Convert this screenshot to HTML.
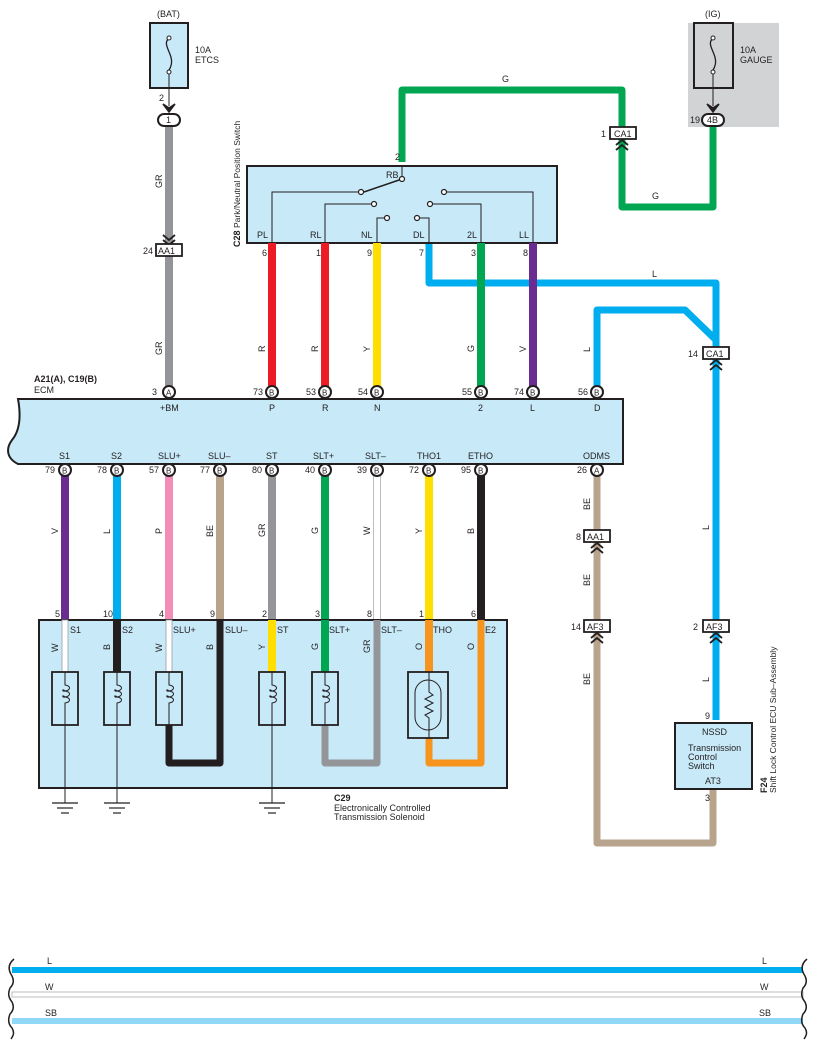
<!DOCTYPE html>
<html><head><meta charset="utf-8"><style>
html,body{margin:0;padding:0;background:#fff}
svg{display:block}
text{font-family:"Liberation Sans",sans-serif;font-size:9px;fill:#231f20}
.b{font-weight:bold}
</style></head><body>
<svg width="818" height="1045" viewBox="0 0 818 1045" xmlns="http://www.w3.org/2000/svg">
<defs>
<g id="pin"><circle r="6" fill="#fff" stroke="#231f20" stroke-width="2"/></g>
<g id="chev" fill="none" stroke="#231f20" stroke-width="1.8"><polyline points="-6,4 0,-1 6,4"/><polyline points="-6,9 0,4 6,9"/></g>
<g id="gnd" stroke="#231f20" stroke-width="1.2"><line x1="-13" y1="0" x2="13" y2="0"/><line x1="-8" y1="5" x2="8" y2="5"/><line x1="-4" y1="10" x2="4" y2="10"/></g>
<g id="coil"><rect x="-13" y="0" width="26" height="53" fill="none" stroke="#231f20" stroke-width="1.8"/><path d="M0,0 V13 C6,14 6,18 0,19 C-3,20 -3,16 0,19 C6,20 6,24 0,25 C-3,26 -3,22 0,25 C6,26 6,30 0,31 V53" fill="none" stroke="#231f20" stroke-width="1"/></g>
</defs>

<!-- gray IG area -->
<rect x="688" y="23" width="91" height="104" fill="#d1d3d4"/>

<!-- BAT fuse -->
<text x="157" y="17">(BAT)</text>
<rect x="150" y="23" width="38" height="65" fill="#c7e9f8" stroke="#231f20" stroke-width="2"/>
<path d="M169,38 C160,46 178,56 169,70" fill="none" stroke="#231f20" stroke-width="1.3"/>
<circle cx="169" cy="38" r="2" fill="#fff" stroke="#231f20"/><circle cx="169" cy="72" r="2" fill="#fff" stroke="#231f20"/>
<text x="195" y="53">10A</text><text x="195" y="63">ETCS</text>
<line x1="169" y1="74" x2="169" y2="106" stroke="#231f20" stroke-width="1"/>
<path d="M163,104 L169,112 L175,104 L169,108 Z" fill="#231f20" stroke="#231f20" stroke-width="1.5"/>
<text x="159" y="101">2</text>
<!-- GR wire -->
<rect x="165" y="126" width="8" height="262" fill="#939598"/>
<rect x="158" y="114" width="22" height="12" rx="6" fill="#fff" stroke="#231f20" stroke-width="2"/>
<text x="166" y="123">1</text>
<text transform="translate(162,188) rotate(-90)">GR</text>
<text transform="translate(162,355) rotate(-90)">GR</text>
<use href="#chev" x="169" y="236" transform="rotate(180 169 240)"/>
<rect x="156" y="244" width="26" height="12" fill="#fff" stroke="#231f20" stroke-width="1.8"/><text x="158" y="254">AA1</text>
<text x="143" y="254">24</text>

<!-- IG fuse -->
<text x="705" y="17">(IG)</text>
<rect x="694" y="23" width="39" height="65" fill="none" stroke="#231f20" stroke-width="2"/>
<path d="M713,38 C704,46 722,56 713,70" fill="none" stroke="#231f20" stroke-width="1.3"/>
<circle cx="713" cy="38" r="2" fill="#fff" stroke="#231f20"/><circle cx="713" cy="72" r="2" fill="#fff" stroke="#231f20"/>
<text x="740" y="53">10A</text><text x="740" y="63">GAUGE</text>
<line x1="713" y1="74" x2="713" y2="106" stroke="#231f20"/>
<path d="M707,104 L713,112 L719,104 L713,108 Z" fill="#231f20" stroke="#231f20" stroke-width="1.5"/>

<!-- green wire -->
<path d="M402,162 V90 H622 V207 H713 V126" fill="none" stroke="#00a651" stroke-width="7" stroke-linejoin="round"/>
<text x="502" y="82">G</text><text x="652" y="199">G</text>
<rect x="702" y="114" width="22" height="12" rx="6" fill="#fff" stroke="#231f20" stroke-width="2"/><text x="707" y="123">4B</text>
<text x="690" y="123">19</text>
<rect x="610" y="127" width="26" height="12" fill="#fff" stroke="#231f20" stroke-width="1.8"/><text x="614" y="137">CA1</text>
<text x="601" y="137">1</text>
<use href="#chev" x="622" y="141"/>
<text x="395" y="160">2</text>

<!-- blue L wires -->
<path d="M429,243 V283 H716 V720" fill="none" stroke="#00aeef" stroke-width="7" stroke-linejoin="round"/>
<path d="M597,388 V310 H685 L716,340" fill="none" stroke="#00aeef" stroke-width="7" stroke-linejoin="round"/>
<text x="652" y="277">L</text>
<text transform="translate(590,352) rotate(-90)">L</text>
<text transform="translate(709,530) rotate(-90)">L</text>
<text transform="translate(709,682) rotate(-90)">L</text>
<rect x="703" y="347" width="26" height="12" fill="#fff" stroke="#231f20" stroke-width="1.8"/><text x="706" y="357">CA1</text>
<text x="688" y="357">14</text>
<use href="#chev" x="716" y="361"/>
<rect x="703" y="620" width="26" height="12" fill="#fff" stroke="#231f20" stroke-width="1.8"/><text x="706" y="630">AF3</text>
<text x="693" y="630">2</text>
<use href="#chev" x="716" y="634"/>

<!-- C28 -->
<text transform="translate(240,247) rotate(-90)" class="b">C28</text>
<text transform="translate(240,228) rotate(-90)" style="font-size:8.5px">Park/Neutral Position Switch</text>
<rect x="247" y="166" width="310" height="77" fill="#c7e9f8" stroke="#231f20" stroke-width="2"/>
<g fill="none" stroke="#231f20" stroke-width="1">
<polyline points="402,166 402,179"/>
<line x1="402" y1="179" x2="364" y2="192" stroke-width="1.5"/>
<polyline points="272,243 272,192 361,192"/>
<polyline points="325,243 325,204 371,204"/>
<polyline points="377,243 377,218 384,218"/>
<polyline points="429,243 429,218 420,218"/>
<polyline points="481,243 481,204 433,204"/>
<polyline points="533,243 533,192 447,192"/>
</g>
<g fill="#fff" stroke="#231f20" stroke-width="1.2">
<circle cx="402" cy="179" r="2.5"/><circle cx="361" cy="192" r="2.5"/><circle cx="374" cy="204" r="2.5"/><circle cx="387" cy="218" r="2.5"/><circle cx="417" cy="218" r="2.5"/><circle cx="430" cy="204" r="2.5"/><circle cx="444" cy="192" r="2.5"/>
</g>
<text x="386" y="178">RB</text>
<text x="257" y="238">PL</text><text x="310" y="238">RL</text><text x="361" y="238">NL</text><text x="413" y="238">DL</text><text x="467" y="238">2L</text><text x="519" y="238">LL</text>

<!-- C28 wires down -->
<rect x="268" y="243" width="8" height="145" fill="#ed1c24"/>
<rect x="321" y="243" width="8" height="145" fill="#ed1c24"/>
<rect x="373" y="243" width="8" height="145" fill="#ffde00"/>
<rect x="477" y="243" width="8" height="145" fill="#00a651"/>
<rect x="529" y="243" width="8" height="145" fill="#6a2c91"/>
<text x="262" y="256">6</text><text x="316" y="256">1</text><text x="367" y="256">9</text><text x="419" y="256">7</text><text x="471" y="256">3</text><text x="523" y="256">8</text>
<text transform="translate(265,352) rotate(-90)">R</text>
<text transform="translate(318,352) rotate(-90)">R</text>
<text transform="translate(370,352) rotate(-90)">Y</text>
<text transform="translate(474,352) rotate(-90)">G</text>
<text transform="translate(526,352) rotate(-90)">V</text>

<!-- ECM -->
<text x="34" y="382" class="b">A21(A), C19(B)</text>
<text x="34" y="393">ECM</text>
<path d="M18,399 H623 V464 H18 C6,458 6,448 12,440 C22,428 20,410 18,399 Z" fill="#c7e9f8" stroke="#231f20" stroke-width="2"/>
<g>
<use href="#pin" x="169" y="392"/><text x="166" y="395.5" style="font-size:8px">A</text><text x="152" y="395">3</text>
<use href="#pin" x="272" y="392"/><text x="269" y="395.5" style="font-size:8px">B</text><text x="253" y="395">73</text>
<use href="#pin" x="325" y="392"/><text x="322" y="395.5" style="font-size:8px">B</text><text x="306" y="395">53</text>
<use href="#pin" x="377" y="392"/><text x="374" y="395.5" style="font-size:8px">B</text><text x="358" y="395">54</text>
<use href="#pin" x="481" y="392"/><text x="478" y="395.5" style="font-size:8px">B</text><text x="462" y="395">55</text>
<use href="#pin" x="533" y="392"/><text x="530" y="395.5" style="font-size:8px">B</text><text x="514" y="395">74</text>
<use href="#pin" x="597" y="392"/><text x="594" y="395.5" style="font-size:8px">B</text><text x="578" y="395">56</text>
</g>
<text x="160" y="411">+BM</text><text x="269" y="411">P</text><text x="322" y="411">R</text><text x="374" y="411">N</text><text x="478" y="411">2</text><text x="530" y="411">L</text><text x="594" y="411">D</text>
<text x="59" y="459">S1</text><text x="111" y="459">S2</text><text x="158" y="459">SLU+</text><text x="208" y="459">SLU–</text><text x="266" y="459">ST</text><text x="313" y="459">SLT+</text><text x="365" y="459">SLT–</text><text x="417" y="459">THO1</text><text x="468" y="459">ETHO</text><text x="583" y="459">ODMS</text>

<!-- ECM bottom wires -->
<rect x="61" y="476" width="8" height="144" fill="#6a2c91"/>
<rect x="113" y="476" width="8" height="144" fill="#00aeef"/>
<rect x="165" y="476" width="8" height="144" fill="#f38cb6"/>
<rect x="216" y="476" width="8" height="144" fill="#b8a38c"/>
<rect x="268" y="476" width="8" height="144" fill="#939598"/>
<rect x="321" y="476" width="8" height="144" fill="#00a651"/>
<rect x="373.5" y="476" width="7" height="144" fill="#fff" stroke="#bcbec0" stroke-width="1"/>
<rect x="425" y="476" width="8" height="144" fill="#ffde00"/>
<rect x="477" y="476" width="8" height="144" fill="#231f20"/>
<g>
<use href="#pin" x="65" y="470"/><text x="62" y="473.5" style="font-size:8px">B</text><text x="45" y="473">79</text>
<use href="#pin" x="117" y="470"/><text x="114" y="473.5" style="font-size:8px">B</text><text x="97" y="473">78</text>
<use href="#pin" x="169" y="470"/><text x="166" y="473.5" style="font-size:8px">B</text><text x="149" y="473">57</text>
<use href="#pin" x="220" y="470"/><text x="217" y="473.5" style="font-size:8px">B</text><text x="200" y="473">77</text>
<use href="#pin" x="272" y="470"/><text x="269" y="473.5" style="font-size:8px">B</text><text x="252" y="473">80</text>
<use href="#pin" x="325" y="470"/><text x="322" y="473.5" style="font-size:8px">B</text><text x="305" y="473">40</text>
<use href="#pin" x="377" y="470"/><text x="374" y="473.5" style="font-size:8px">B</text><text x="357" y="473">39</text>
<use href="#pin" x="429" y="470"/><text x="426" y="473.5" style="font-size:8px">B</text><text x="409" y="473">72</text>
<use href="#pin" x="481" y="470"/><text x="478" y="473.5" style="font-size:8px">B</text><text x="461" y="473">95</text>
</g>
<text transform="translate(58,534) rotate(-90)">V</text>
<text transform="translate(110,534) rotate(-90)">L</text>
<text transform="translate(162,534) rotate(-90)">P</text>
<text transform="translate(213,537) rotate(-90)">BE</text>
<text transform="translate(265,537) rotate(-90)">GR</text>
<text transform="translate(318,534) rotate(-90)">G</text>
<text transform="translate(370,535) rotate(-90)">W</text>
<text transform="translate(422,534) rotate(-90)">Y</text>
<text transform="translate(474,534) rotate(-90)">B</text>
<text x="55" y="617">5</text><text x="103" y="617">10</text><text x="159" y="617">4</text><text x="210" y="617">9</text><text x="262" y="617">2</text><text x="315" y="617">3</text><text x="367" y="617">8</text><text x="419" y="617">1</text><text x="471" y="617">6</text>

<!-- BE wire right -->
<path d="M597,476 V843 H713 V789" fill="none" stroke="#b8a38c" stroke-width="7" stroke-linejoin="round"/>
<use href="#pin" x="597" y="470"/><text x="594" y="473.5" style="font-size:8px">A</text><text x="577" y="473">26</text>
<text transform="translate(590,510) rotate(-90)">BE</text>
<text transform="translate(590,586) rotate(-90)">BE</text>
<text transform="translate(590,685) rotate(-90)">BE</text>
<rect x="584" y="530" width="26" height="12" fill="#fff" stroke="#231f20" stroke-width="1.8"/><text x="587" y="540">AA1</text>
<text x="576" y="540">8</text>
<use href="#chev" x="597" y="544"/>
<rect x="584" y="620" width="26" height="12" fill="#fff" stroke="#231f20" stroke-width="1.8"/><text x="587" y="630">AF3</text>
<text x="571" y="630">14</text>
<use href="#chev" x="597" y="634"/>

<!-- F24 -->
<rect x="675" y="723" width="77" height="66" fill="#c7e9f8" stroke="#231f20" stroke-width="2"/>
<text x="702" y="735">NSSD</text>
<text x="688" y="751">Transmission</text><text x="688" y="760">Control</text><text x="688" y="769">Switch</text>
<text x="705" y="784">AT3</text>
<text x="705" y="719">9</text><text x="705" y="801">3</text>
<text transform="translate(767,793) rotate(-90)" class="b">F24</text>
<text transform="translate(776,793) rotate(-90)" style="font-size:8.5px">Shift Lock Control ECU Sub–Assembly</text>

<!-- C29 -->
<rect x="39" y="620" width="468" height="168" fill="#c7e9f8" stroke="#231f20" stroke-width="2"/>
<rect x="62" y="620" width="6" height="52" fill="#fff" stroke="#9d9fa2" stroke-width="0.8"/>
<rect x="113" y="620" width="8" height="52" fill="#231f20"/>
<rect x="166" y="620" width="6" height="52" fill="#fff" stroke="#9d9fa2" stroke-width="0.8"/>
<rect x="268" y="620" width="8" height="52" fill="#ffde00"/>
<rect x="321" y="620" width="8" height="52" fill="#00a651"/>
<path d="M220,620 V763 H169 V725" fill="none" stroke="#231f20" stroke-width="7" stroke-linejoin="round"/>
<path d="M377,620 V763 H325 V725" fill="none" stroke="#939598" stroke-width="7" stroke-linejoin="round"/>
<path d="M481,620 V763 H429 V738" fill="none" stroke="#f7941d" stroke-width="7" stroke-linejoin="round"/>
<rect x="425" y="620" width="8" height="52" fill="#f7941d"/>
<use href="#coil" x="65" y="672"/><use href="#coil" x="117" y="672"/><use href="#coil" x="169" y="672"/><use href="#coil" x="272" y="672"/><use href="#coil" x="325" y="672"/>
<rect x="408" y="672" width="40" height="66" fill="#c7e9f8" stroke="#231f20" stroke-width="1.8"/>
<rect x="415" y="680" width="26" height="50" rx="13" fill="none" stroke="#231f20" stroke-width="1"/>
<path d="M429,672 V692 L433,695 L425,699 L433,703 L425,707 L433,711 L425,715 L429,718 V738" fill="none" stroke="#231f20" stroke-width="1"/>
<g stroke="#231f20" stroke-width="1"><line x1="65" y1="725" x2="65" y2="803"/><line x1="117" y1="725" x2="117" y2="803"/><line x1="272" y1="725" x2="272" y2="803"/></g>
<use href="#gnd" x="65" y="803"/><use href="#gnd" x="117" y="803"/><use href="#gnd" x="272" y="803"/>
<text x="70" y="633">S1</text><text x="122" y="633">S2</text><text x="173" y="633">SLU+</text><text x="225" y="633">SLU–</text><text x="277" y="633">ST</text><text x="329" y="633">SLT+</text><text x="381" y="633">SLT–</text><text x="433" y="633">THO</text><text x="485" y="633">E2</text>
<text transform="translate(58,652) rotate(-90)">W</text>
<text transform="translate(110,650) rotate(-90)">B</text>
<text transform="translate(162,652) rotate(-90)">W</text>
<text transform="translate(213,650) rotate(-90)">B</text>
<text transform="translate(265,650) rotate(-90)">Y</text>
<text transform="translate(318,650) rotate(-90)">G</text>
<text transform="translate(370,653) rotate(-90)">GR</text>
<text transform="translate(422,650) rotate(-90)">O</text>
<text transform="translate(474,650) rotate(-90)">O</text>
<text x="334" y="801" class="b">C29</text>
<text x="334" y="811">Electronically Controlled</text>
<text x="334" y="820">Transmission Solenoid</text>

<!-- bottom wires -->
<rect x="12" y="967" width="791" height="6" fill="#00aeef"/>
<rect x="12" y="992" width="791" height="5" fill="#fff" stroke="#bcbec0" stroke-width="1"/>
<rect x="12" y="1018" width="791" height="6" fill="#8fd8f8"/>
<text x="47" y="964">L</text><text x="762" y="964">L</text>
<text x="45" y="990">W</text><text x="760" y="990">W</text>
<text x="45" y="1016">SB</text><text x="759" y="1016">SB</text>
<g fill="none" stroke="#231f20" stroke-width="1.5">
<path d="M14,959 C8,964 8,970 12,976 C15,982 12,986 10,988 C8,993 8,997 12,1002 C15,1008 12,1012 10,1014 C8,1019 8,1024 12,1028 C15,1033 13,1036 11,1039"/>
<path d="M807,959 C801,964 801,970 805,976 C808,982 805,986 803,988 C801,993 801,997 805,1002 C808,1008 805,1012 803,1014 C801,1019 801,1024 805,1028 C808,1033 806,1036 804,1039"/>
</g>
</svg>
</body></html>
